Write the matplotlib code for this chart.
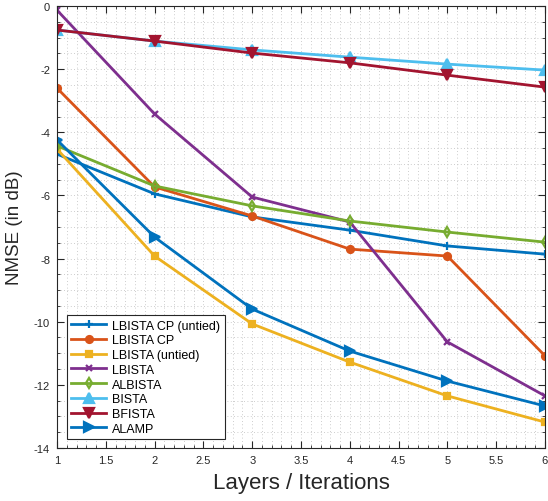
import matplotlib
matplotlib.use("Agg")
import matplotlib.pyplot as plt
from matplotlib.ticker import MultipleLocator, FuncFormatter

layers = [1, 2, 3, 4, 5, 6]
lbista_cp_untied = [-4.69, -5.95, -6.68, -7.10, -7.60, -7.86]
lbista_cp = [-2.60, -5.73, -6.65, -7.70, -7.92, -11.08]
lbista_untied = [-4.53, -7.92, -10.07, -11.28, -12.35, -13.18]
lbista = [-0.13, -3.42, -6.05, -6.84, -10.64, -12.35]
albista = [-4.43, -5.70, -6.33, -6.81, -7.16, -7.48]
bista = [-0.76, -1.11, -1.39, -1.62, -1.84, -2.03]
bfista = [-0.76, -1.11, -1.49, -1.80, -2.19, -2.57]
alamp = [-4.24, -7.32, -9.60, -10.93, -11.88, -12.67]

series = [
    ("LBISTA CP (untied)", lbista_cp_untied, "#0072BD", "+"),
    ("LBISTA CP", lbista_cp, "#D95319", "o"),
    ("LBISTA (untied)", lbista_untied, "#EDB120", "s"),
    ("LBISTA", lbista, "#7E2F8E", "x"),
    ("ALBISTA", albista, "#77AC30", "d"),
    ("BISTA", bista, "#4DBEEE", "^"),
    ("BFISTA", bfista, "#A2142F", "v"),
    ("ALAMP", alamp, "#0072BD", ">"),
]

plt.rcParams['font.family'] = ['Liberation Sans', 'DejaVu Sans']
fig = plt.figure(figsize=(5.48, 5.02), dpi=100)
ax = fig.add_axes([0.104, 0.1056, 0.8905, 0.8804])

sizes = {"+": 6, "o": 5, "s": 5, "x": 4.5, "d": 5.5, "^": 6.5, "v": 6.5, ">": 6.5}
for name, vals, col, mk in series:
    ax.plot(layers, vals, color=col, lw=2, marker=mk, ms=sizes[mk],
            mfc=col if mk in "os^v>" else 'none', mew=1.6, label=name)

ax.set_xlim(1, 6)
ax.set_ylim(-14, 0)
ax.xaxis.set_major_locator(MultipleLocator(0.5))
ax.xaxis.set_minor_locator(MultipleLocator(0.1))
ax.yaxis.set_major_locator(MultipleLocator(2))
ax.yaxis.set_minor_locator(MultipleLocator(0.5))
ax.xaxis.set_major_formatter(FuncFormatter(lambda v, p: f"{v:g}"))
ax.yaxis.set_major_formatter(FuncFormatter(lambda v, p: f"{v:g}"))
ax.grid(True, which='both', ls=(0, (1, 3)), color='#bcbcbc', lw=0.6)
ax.tick_params(which='both', direction='in', top=True, right=True, labelsize=8, colors='#262626')
ax.tick_params(which='major', length=5, pad=5)
ax.tick_params(which='minor', length=2.5)
for s in ax.spines.values():
    s.set_color('#262626')
    s.set_linewidth(0.8)
ax.set_xlabel("Layers / Iterations", fontsize=16, color='#262626', labelpad=5)
ax.set_ylabel("NMSE (in dB)", fontsize=13.5, color='#262626', labelpad=8)

leg = ax.legend(loc='lower left', fontsize=9, fancybox=False, edgecolor='#262626',
                framealpha=1, handlelength=2.8, borderpad=0.35, labelspacing=0.22,
                handletextpad=0.5, borderaxespad=0, bbox_to_anchor=(0.02, 0.02))
leg.get_frame().set_linewidth(0.8)

fig.savefig("out.png", dpi=100)
